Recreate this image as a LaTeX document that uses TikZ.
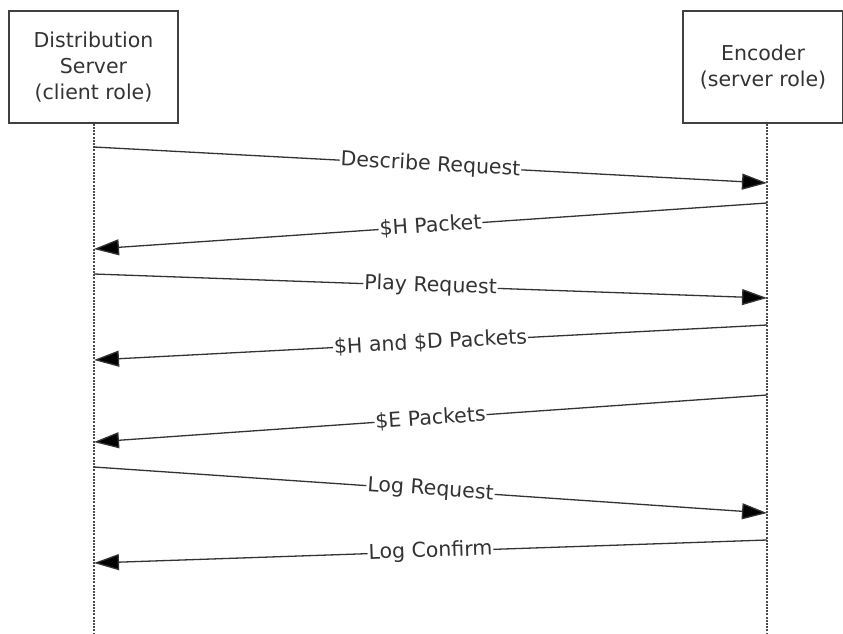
\documentclass[tikz,border=0pt]{standalone}
\usepackage{fontspec}
\setmainfont{DejaVu Sans}
\usetikzlibrary{arrows.meta}

\begin{document}
\begin{tikzpicture}[x=1pt,y=-1pt,
  font=\fontsize{20.5}{26}\selectfont,
  box/.style={draw=black!75,line width=1.5pt,align=center,inner sep=0pt,text=black!80},
  lifeline/.style={draw=black!70,dash pattern=on 2pt off 1.2pt,line width=2.2pt},
  msg/.style={draw=black!80,line width=1.3pt,-{Triangle[length=25pt,width=16pt,fill=black]}},
  lbl/.style={midway,sloped,fill=white,inner sep=1pt,text=black!80}]

\useasboundingbox (0,0) rectangle (843,633);

\node[box,minimum width=169pt,minimum height=112pt] (ds) at (93.5,67) {Distribution\\Server\\(client role)};
\node[box,minimum width=160pt,minimum height=112pt] (enc) at (763,67) {Encoder\\(server role)};

\coordinate (dsEnd) at (94,633);
\coordinate (encEnd) at (767,633);
\draw[lifeline] (ds.south -| dsEnd) -- (dsEnd);
\draw[lifeline] (enc.south -| encEnd) -- (encEnd);

\coordinate (a1) at (94,147); \coordinate (b1) at (767,183);
\coordinate (a2) at (94,249); \coordinate (b2) at (767,203);
\coordinate (a3) at (94,274); \coordinate (b3) at (767,298);
\coordinate (a4) at (94,360); \coordinate (b4) at (767,325);
\coordinate (a5) at (94,442); \coordinate (b5) at (767,395);
\coordinate (a6) at (94,467); \coordinate (b6) at (767,513);
\coordinate (a7) at (94,563); \coordinate (b7) at (767,540);

\draw[msg] (a1) -- node[lbl] {Describe Request} (b1);
\draw[msg] (b2) -- node[lbl] {\$H Packet} (a2);
\draw[msg] (a3) -- node[lbl] {Play Request} (b3);
\draw[msg] (b4) -- node[lbl] {\$H and \$D Packets} (a4);
\draw[msg] (b5) -- node[lbl] {\$E Packets} (a5);
\draw[msg] (a6) -- node[lbl] {Log Request} (b6);
\draw[msg] (b7) -- node[lbl] {Log Confirm} (a7);

\end{tikzpicture}
\end{document}
